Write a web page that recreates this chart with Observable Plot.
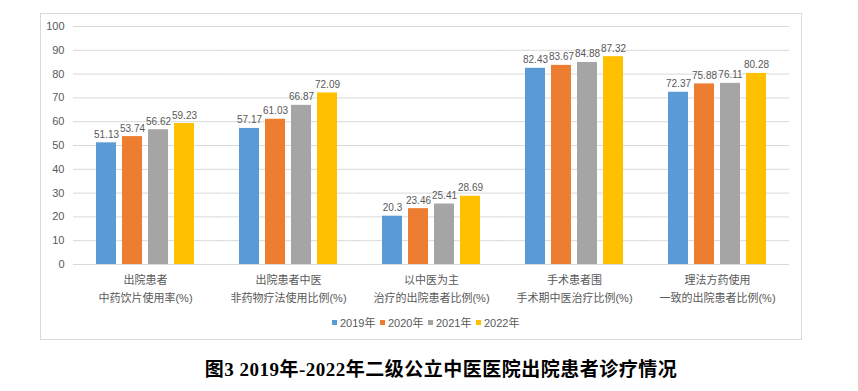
<!DOCTYPE html>
<html>
<head>
<meta charset="utf-8">
<script src="https://cdn.jsdelivr.net/npm/d3@7"></script>
<script src="https://cdn.jsdelivr.net/npm/@observablehq/plot@0.6"></script>
<style>
  html, body { margin: 0; padding: 0; background: #fff; }
  body { width: 858px; height: 391px; position: relative; overflow: hidden;
         font-family: "Liberation Sans", "Noto Sans CJK SC", sans-serif; }
  #frame { position: absolute; left: 40px; top: 13px; width: 762px; height: 327px;
           box-sizing: border-box; border: 1px solid #d9d9d9; }
  #chart { position: absolute; left: 0; top: 0; }
  #legend { position: absolute; top: 300px; left: 291px; display: flex; gap: 0; 
            font-size: 11px; color: #595959; }
  #legend .item { display: flex; align-items: center; width: 48px; white-space: nowrap; }
  #legend .sw { width: 5px; height: 5px; margin-right: 3px; }
  #title { position: absolute; top: 354px; left: 0; width: 882px; text-align: center;
           font-family: "Liberation Serif", "Noto Sans CJK SC", serif; font-weight: bold;
           font-size: 19px; color: #000; letter-spacing: 0.5px; white-space: nowrap; }
</style>
</head>
<body>
<div id="frame">
  <div id="chart"></div>
  <div id="legend"></div>
</div>
<div id="title">图3 2019年-2022年二级公立中医医院出院患者诊疗情况</div>
<script>
const categories = [
  "出院患者\n中药饮片使用率(%)",
  "出院患者中医\n非药物疗法使用比例(%)",
  "以中医为主\n治疗的出院患者比例(%)",
  "手术患者围\n手术期中医治疗比例(%)",
  "理法方药使用\n一致的出院患者比例(%)"
];
const years = ["2019年", "2020年", "2021年", "2022年"];
const v2019 = [51.13, 57.17, 20.3, 82.43, 72.37];
const v2020 = [53.74, 61.03, 23.46, 83.67, 75.88];
const v2021 = [56.62, 66.87, 25.41, 84.88, 76.11];
const v2022 = [59.23, 72.09, 28.69, 87.32, 80.28];
const yTicks = [0, 10, 20, 30, 40, 50, 60, 70, 80, 90, 100];
const colors = ["#5b9bd5", "#ed7d31", "#a5a5a5", "#ffc000"];

const series = [v2019, v2020, v2021, v2022];
const data = [];
categories.forEach((c, i) => {
  years.forEach((yr, j) => data.push({cat: c, year: yr, value: series[j][i]}));
});

const textColor = "#595959";
const chart = Plot.plot({
  width: 760,
  height: 300,
  marginLeft: 31,
  marginRight: 11,
  marginTop: 12,
  marginBottom: 50,
  style: {fontFamily: '"Liberation Sans", "Noto Sans CJK SC", sans-serif', fontSize: "11px", background: "transparent"},
  fx: {domain: categories, paddingInner: 0.3, paddingOuter: 0.15, label: null},
  x: {domain: years, paddingInner: 0.22, paddingOuter: 0, axis: null},
  y: {domain: [0, 100], label: null},
  color: {domain: years, range: colors},
  marks: [
    Plot.ruleY(yTicks, {y: d => d, stroke: "#d9d9d9", strokeWidth: 1, insetLeft: -22, insetRight: -22}),
    Plot.axisY({ticks: yTicks, tickSize: 0, tickPadding: 31, fill: textColor, fontSize: 11, label: null}),
    Plot.barY(data, {fx: "cat", x: "year", y: "value", fill: "year"}),
    Plot.text(data, {fx: "cat", x: "year", y: "value", text: d => String(d.value), dy: -5,
      lineAnchor: "bottom", fill: textColor, fontSize: 10}),
    Plot.axisFx({anchor: "bottom", tickSize: 0, tickPadding: 7, lineHeight: 1.64,
      fill: textColor, fontSize: 11, label: null, tickFormat: d => d})
  ]
});
document.getElementById("chart").appendChild(chart);

const legend = document.getElementById("legend");
years.forEach((yr, j) => {
  const item = document.createElement("div");
  item.className = "item";
  const sw = document.createElement("span");
  sw.className = "sw";
  sw.style.background = colors[j];
  const t = document.createElement("span");
  t.textContent = yr;
  item.appendChild(sw);
  item.appendChild(t);
  legend.appendChild(item);
});
</script>
</body>
</html>
